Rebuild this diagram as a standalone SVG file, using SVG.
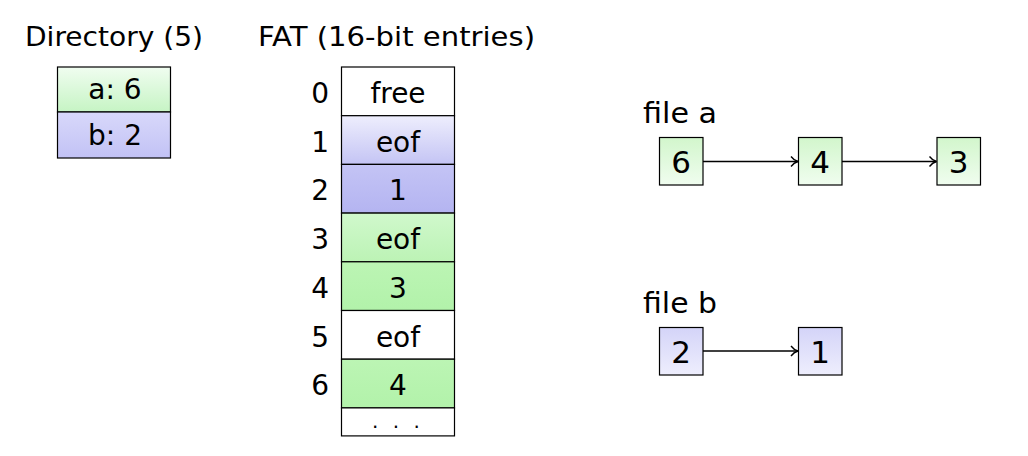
<svg xmlns="http://www.w3.org/2000/svg" width="1028" height="456" viewBox="0 0 1028 456">
<defs>
<linearGradient id="gDirA" x1="0" y1="0" x2="0" y2="1"><stop offset="0" stop-color="#f0fdf0"/><stop offset="1" stop-color="#c6f4c4"/></linearGradient>
<linearGradient id="gDirB" x1="0" y1="0" x2="0" y2="1"><stop offset="0" stop-color="#d8d8fa"/><stop offset="1" stop-color="#c2c2f5"/></linearGradient>
<linearGradient id="gF1" x1="0" y1="0" x2="0" y2="1"><stop offset="0" stop-color="#eeeefd"/><stop offset="1" stop-color="#c4c4f4"/></linearGradient>
<linearGradient id="gF2" x1="0" y1="0" x2="0" y2="1"><stop offset="0" stop-color="#c4c4f5"/><stop offset="1" stop-color="#b4b4f1"/></linearGradient>
<linearGradient id="gF3" x1="0" y1="0" x2="0" y2="1"><stop offset="0" stop-color="#d0f8cc"/><stop offset="1" stop-color="#bcf3b5"/></linearGradient>
<linearGradient id="gF4" x1="0" y1="0" x2="0" y2="1"><stop offset="0" stop-color="#bcf5b4"/><stop offset="1" stop-color="#b2f2aa"/></linearGradient>
<linearGradient id="gNA" x1="0" y1="0" x2="0" y2="1"><stop offset="0" stop-color="#d2f6cc"/><stop offset="1" stop-color="#f0fdef"/></linearGradient>
<linearGradient id="gNB" x1="0" y1="0" x2="0" y2="1"><stop offset="0" stop-color="#d4d4f8"/><stop offset="1" stop-color="#eeeefd"/></linearGradient>
<marker id="arr" viewBox="0 0 10 12" refX="9" refY="6" markerWidth="10" markerHeight="12" markerUnits="userSpaceOnUse" orient="auto">
<path d="M2,1 Q5,5 9,6 Q5,7 2,11" fill="none" stroke="#000" stroke-width="1.3"/>
</marker>
</defs>
<style>
text{font-family:"DejaVu Sans","Liberation Sans",sans-serif;font-size:28px;fill:#000}
.c{text-anchor:middle}
.r{text-anchor:end}
.n{font-size:31px}
.cell{stroke:#000;stroke-width:1.2}
.edge{stroke:#000;stroke-width:1.4;fill:none;marker-end:url(#arr)}
</style>
<rect width="1028" height="456" fill="#fff"/>

<g id="directory">
<text x="25" y="46" textLength="178" lengthAdjust="spacingAndGlyphs" style="font-size:27px">Directory (5)</text>
<rect class="cell" x="57.5" y="67" width="113" height="45" fill="url(#gDirA)"/>
<rect class="cell" x="57.5" y="112" width="113" height="46" fill="url(#gDirB)"/>
<text class="c" x="115" y="99">a: 6</text>
<text class="c" x="115" y="145">b: 2</text>
</g>

<g id="fat">
<text x="258" y="46" textLength="277" lengthAdjust="spacingAndGlyphs" style="font-size:27px">FAT (16-bit entries)</text>
<rect class="cell" x="341.5" y="67" width="113" height="48.7" fill="#fff"/>
<rect class="cell" x="341.5" y="115.7" width="113" height="48.7" fill="url(#gF1)"/>
<rect class="cell" x="341.5" y="164.4" width="113" height="48.7" fill="url(#gF2)"/>
<rect class="cell" x="341.5" y="213.1" width="113" height="48.7" fill="url(#gF3)"/>
<rect class="cell" x="341.5" y="261.8" width="113" height="48.7" fill="url(#gF4)"/>
<rect class="cell" x="341.5" y="310.5" width="113" height="48.7" fill="#fff"/>
<rect class="cell" x="341.5" y="359.2" width="113" height="48.7" fill="url(#gF4)"/>
<rect class="cell" x="341.5" y="407.9" width="113" height="28" fill="#fff"/>
<text class="c" x="398" y="103">free</text>
<text class="c" x="398" y="151.7">eof</text>
<text class="c" x="398" y="200.4">1</text>
<text class="c" x="398" y="249.1">eof</text>
<text class="c" x="398" y="297.8">3</text>
<text class="c" x="398" y="346.5">eof</text>
<text class="c" x="398" y="395.2">4</text>
<text class="c" x="398" y="428" style="font-size:20px;letter-spacing:4px">. . .</text>
<text class="r" x="329" y="103">0</text>
<text class="r" x="329" y="151.7">1</text>
<text class="r" x="329" y="200.4">2</text>
<text class="r" x="329" y="249.1">3</text>
<text class="r" x="329" y="297.8">4</text>
<text class="r" x="329" y="346.5">5</text>
<text class="r" x="329" y="395.2">6</text>
</g>

<g id="file-a">
<text x="643" y="123" textLength="74" lengthAdjust="spacingAndGlyphs">file a</text>
</g>
<g id="a6"><rect class="cell" x="659.5" y="137.5" width="43.5" height="47.5" fill="url(#gNA)"/><text class="c n" x="681.2" y="173">6</text></g>
<g id="a4"><rect class="cell" x="798.5" y="137.5" width="43.5" height="47.5" fill="url(#gNA)"/><text class="c n" x="820.2" y="173">4</text></g>
<g id="a3"><rect class="cell" x="937" y="137.5" width="43.5" height="47.5" fill="url(#gNA)"/><text class="c n" x="958.7" y="173">3</text></g>

<g id="file-b">
<text x="643" y="313" textLength="74" lengthAdjust="spacingAndGlyphs">file b</text>
</g>
<g id="b2"><rect class="cell" x="659.5" y="327.5" width="43.5" height="47.5" fill="url(#gNB)"/><text class="c n" x="681.2" y="363">2</text></g>
<g id="b1"><rect class="cell" x="798.5" y="327.5" width="43.5" height="47.5" fill="url(#gNB)"/><text class="c n" x="820.2" y="363">1</text></g>

<g id="connectors">
<line class="edge" x1="703" y1="161.5" x2="798" y2="161.5"/>
<line class="edge" x1="842" y1="161.5" x2="936.5" y2="161.5"/>
<line class="edge" x1="703" y1="351" x2="798" y2="351"/>
</g>
</svg>
